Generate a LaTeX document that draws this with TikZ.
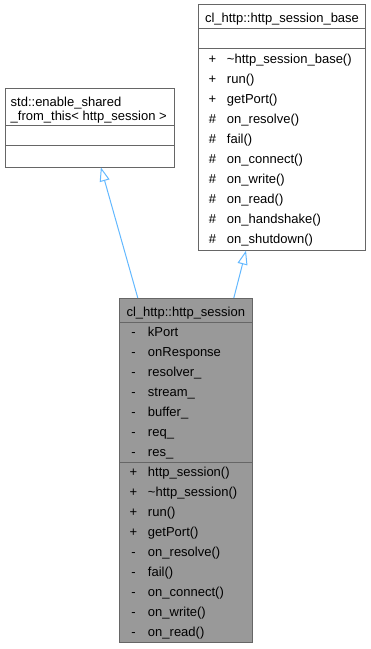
\documentclass[tikz,border=0pt]{standalone}
\usepackage{fontspec}
\setmainfont{Liberation Sans}
\usetikzlibrary{arrows.meta}

\definecolor{edgegray}{HTML}{666666}
\definecolor{boxgray}{HTML}{999999}
\definecolor{linkblue}{HTML}{63B8FF}

\tikzset{
  classbox/.style={draw=edgegray, line width=1pt, fill=white, inner sep=0pt, outer sep=0pt, anchor=north west},
  sepline/.style={draw=edgegray, line width=1pt},
  classtext/.style={inner sep=0pt, font=\fontsize{13}{15}\selectfont},
  member/.style={classtext, anchor=base west},
  inherit/.style={draw=linkblue, line width=1pt, -{Triangle[open, length=14pt, width=10pt]}},
}

\begin{document}
\begin{tikzpicture}[x=1pt, y=-1pt]
  \useasboundingbox (0,0) rectangle (371,649);

  % base classes
  \node[classbox, minimum width=169.7pt, minimum height=78.6pt] (shared) at (5,88.7) {};
  \draw[sepline] (shared.west |- 0,125) -- (shared.east |- 0,125);
  \draw[sepline] (shared.west |- 0,145.7) -- (shared.east |- 0,145.7);
  \node[classtext, anchor=base west] (shared-t1) at (10.5,106) {std::enable\_shared};
  \node[classtext, anchor=base west] (shared-t2) at (10.5,120) {\_from\_this< http\_session >};

  \node[classbox, minimum width=167.4pt, minimum height=246.6pt] (base) at (198.3,4) {};
  \draw[sepline] (base.west |- 0,28) -- (base.east |- 0,28);
  \draw[sepline] (base.west |- 0,48) -- (base.east |- 0,48);
  \node[classtext, anchor=base] (base-title) at (base.north |- 0,22.5) {cl\_http::http\_session\_base};
  \foreach \sgn/\txt [count=\i from 0] in {+/{\textasciitilde http\_session\_base()}, +/run(), +/getPort(),
      \#/on\_resolve(), \#/fail(), \#/on\_connect(), \#/on\_write(), \#/on\_read(),
      \#/on\_handshake(), \#/on\_shutdown()}
    \node[member] (base-m\i) at (205.3,63.5+20*\i) {\makebox[14pt][c]{\sgn}\hspace{7.5pt}\txt};

  % derived class
  \node[classbox, fill=boxgray, minimum width=133pt, minimum height=344.7pt] (session) at (119.3,298) {};
  \draw[sepline] (session.west |- 0,322) -- (session.east |- 0,322);
  \draw[sepline] (session.west |- 0,462) -- (session.east |- 0,462);
  \node[classtext, anchor=base] (session-title) at (session.north |- 0,316.5) {cl\_http::http\_session};
  \foreach \sgn/\txt [count=\i from 0] in {-/kPort, -/onResponse, -/resolver\_, -/stream\_,
      -/buffer\_, -/req\_, -/res\_}
    \node[member] (session-a\i) at (126.3,336.5+20*\i) {\makebox[14pt][c]{\sgn}\hspace{7.5pt}\txt};
  \foreach \sgn/\txt [count=\i from 0] in {+/http\_session(), +/{\textasciitilde http\_session()}, +/run(),
      +/getPort(), -/on\_resolve(), -/fail(), -/on\_connect(), -/on\_write(), -/on\_read()}
    \node[member] (session-m\i) at (126.3,476.5+20*\i) {\makebox[14pt][c]{\sgn}\hspace{7.5pt}\txt};

  % inheritance
  \draw[inherit] ([xshift=-48pt]session.north) -- ([xshift=11pt]shared.south);
  \draw[inherit] ([xshift=48pt]session.north) -- ([xshift=-36pt]base.south);
\end{tikzpicture}
\end{document}
